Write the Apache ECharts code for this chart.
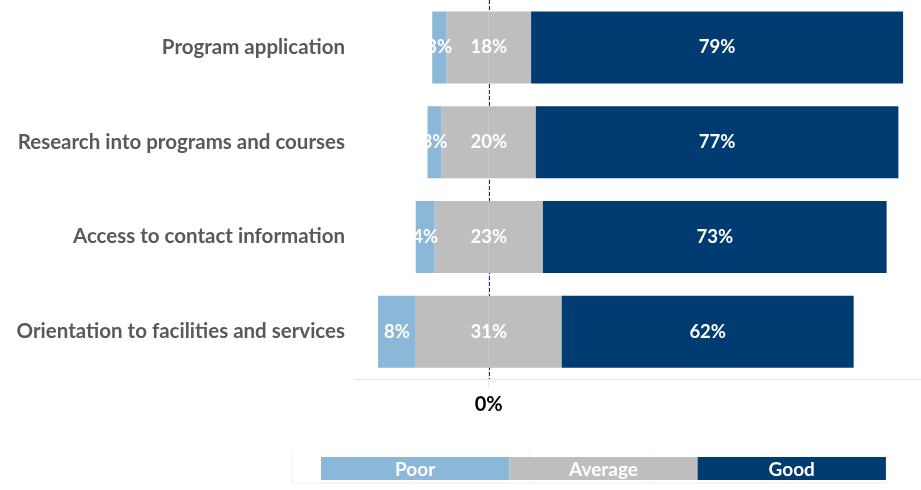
<!DOCTYPE html>
<html>
<head>
<meta charset="utf-8">
<script src="https://cdn.jsdelivr.net/npm/echarts@6/dist/echarts.min.js"></script>
<style>
  html, body { margin: 0; padding: 0; background: #fff; }
  #main { width: 921px; height: 490px; }
</style>
</head>
<body>
<div id="main"></div>
<script>
// survey rows, top to bottom
const categories = [
  'Program application',
  'Research into programs and courses',
  'Access to contact information',
  'Orientation to facilities and services'
];
const seriesNames = ['Poor', 'Average', 'Good'];
const poor = [3, 3, 4, 8];
const average = [18, 20, 23, 31];
const good = [79, 77, 73, 62];
const xTickLabels = [0];

const colors = { Poor: '#8bb7d9', Average: '#bdbebd', Good: '#003b71' };
const font = 'Lato, "Open Sans", sans-serif';

const chart = echarts.init(document.getElementById('main'));

const pctLabel = (extra) => Object.assign({
  show: true,
  color: '#fff',
  fontFamily: font,
  fontWeight: 'bold',
  fontSize: 18.5,
  formatter: p => Math.abs(p.value) + '%'
}, extra || {});

// legend drawn like the excel table legend
const legendLeft = 321, legendW = 188.3, legendTop = 457, legendH = 23;
const graphics = [];
// faint table lines behind legend
for (let i = 0; i <= 5; i++) {
  graphics.push({
    type: 'line', silent: true, z: 0,
    shape: { x1: 292 + i * 118.8, y1: 454, x2: 292 + i * 118.8, y2: 483 },
    style: { stroke: '#eeeeee', lineWidth: 1 }
  });
}
graphics.push({
  type: 'line', silent: true, z: 0,
  shape: { x1: 292, y1: 483, x2: 886, y2: 483 },
  style: { stroke: '#eeeeee', lineWidth: 1 }
});
seriesNames.forEach((name, i) => {
  graphics.push({
    type: 'rect', z: 5,
    shape: { x: legendLeft + i * legendW, y: legendTop, width: legendW, height: legendH },
    style: { fill: colors[name] }
  });
  graphics.push({
    type: 'text', z: 6,
    x: legendLeft + (i + 0.5) * legendW,
    y: legendTop + legendH / 2 + 1,
    style: {
      text: name,
      fill: '#fff',
      fontFamily: font,
      fontWeight: 'bold',
      fontSize: 19,
      textAlign: 'center',
      textVerticalAlign: 'middle'
    }
  });
});

const option = {
  animation: false,
  grid: { left: 355, right: 0, top: -2, bottom: 111, containLabel: false },
  xAxis: {
    type: 'value',
    min: -28.4,
    max: 91.8,
    axisLine: { show: true, lineStyle: { color: '#e8e8e8' } },
    axisTick: { show: true, customValues: xTickLabels, length: 9, lineStyle: { color: '#e8e8e8' } },
    axisLabel: {
      customValues: xTickLabels,
      formatter: v => v + '%',
      color: '#000',
      fontFamily: font,
      fontWeight: 'bold',
      fontSize: 20,
      margin: 16
    },
    splitLine: {
      show: true,
      lineStyle: { color: '#1c1c80', type: [4, 2], width: 2 }
    }
  },
  yAxis: {
    type: 'category',
    inverse: true,
    data: categories,
    axisLine: { show: true, lineStyle: { color: '#e8e8e8' } },
    axisTick: { show: false },
    axisLabel: {
      color: '#595959',
      fontFamily: font,
      fontWeight: 'bold',
      fontSize: 20.5,
      margin: 10
    }
  },
  series: [
    {
      name: 'Average',
      type: 'bar',
      stack: 'total',
      barWidth: 72,
      itemStyle: { color: colors.Average },
      data: average.map(v => -v / 2),
      label: { show: false }
    },
    {
      name: 'Average',
      type: 'bar',
      stack: 'total',
      barWidth: 72,
      itemStyle: { color: colors.Average },
      data: average.map(v => v / 2),
      label: pctLabel({
        position: [0, '50%'],
        align: 'center',
        verticalAlign: 'middle',
        formatter: p => average[p.dataIndex] + '%'
      })
    },
    {
      name: 'Poor',
      type: 'bar',
      stack: 'total',
      barWidth: 72,
      itemStyle: { color: colors.Poor },
      data: poor.map(v => -v),
      label: pctLabel({ position: 'inside' })
    },
    {
      name: 'Good',
      type: 'bar',
      stack: 'total',
      barWidth: 72,
      itemStyle: { color: colors.Good },
      data: good,
      label: pctLabel({ position: 'inside' })
    }
  ],
  graphic: graphics
};

chart.setOption(option);
</script>
</body>
</html>
